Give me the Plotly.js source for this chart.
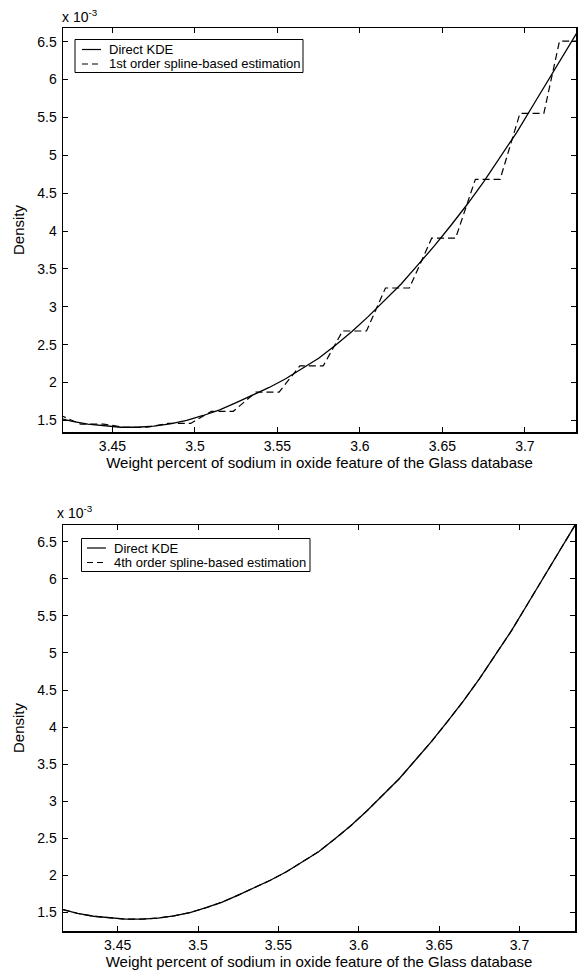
<!DOCTYPE html>
<html><head><meta charset="utf-8">
<script src="https://cdn.plot.ly/plotly-3.0.1.min.js"></script>
<style>html,body{margin:0;padding:0;background:#fff;} #chart{width:580px;height:974px;}</style>
</head><body><div id="chart"></div>
<script>
// Density values in units of 1e-3
const kdeX = [3.416,3.425,3.435,3.445,3.455,3.465,3.475,3.485,3.495,3.505,3.515,3.525,3.535,3.545,3.555,3.565,3.575,3.585,3.595,3.605,3.615,3.625,3.635,3.645,3.655,3.665,3.675,3.685,3.695,3.705,3.715,3.725,3.735];
const kdeY = [1.54,1.49,1.45,1.425,1.41,1.41,1.425,1.455,1.50,1.565,1.64,1.735,1.83,1.935,2.05,2.18,2.32,2.49,2.67,2.87,3.08,3.30,3.55,3.80,4.07,4.35,4.65,4.97,5.30,5.66,6.02,6.38,6.74];

const spline1X = [3.4044,3.4182,3.4308,3.4446,3.4572,3.4710,3.4836,3.4974,3.5100,3.5232,3.5370,3.5510,3.5636,3.5778,3.5895,3.6040,3.6155,3.6300,3.6435,3.6580,3.6700,3.6850,3.6970,3.7115,3.7210,3.7350];
const spline1Y = [1.57,1.57,1.45,1.45,1.41,1.41,1.46,1.46,1.62,1.62,1.874,1.874,2.22,2.22,2.68,2.68,3.248,3.248,3.905,3.905,4.683,4.683,5.553,5.553,6.508,6.508];

const spline4X = [3.416,3.425,3.435,3.445,3.455,3.465,3.475,3.485,3.495,3.505,3.515,3.525,3.535,3.545,3.555,3.565,3.575,3.585,3.595,3.605,3.615,3.625,3.635,3.645,3.655,3.665,3.675,3.685,3.695,3.705,3.715,3.725,3.735];
const spline4Y = [1.54,1.49,1.45,1.425,1.41,1.41,1.425,1.455,1.50,1.565,1.64,1.735,1.83,1.935,2.05,2.18,2.32,2.49,2.67,2.87,3.08,3.30,3.55,3.80,4.07,4.35,4.65,4.97,5.30,5.66,6.02,6.38,6.74];

const xTickVals = [3.45,3.5,3.55,3.6,3.65,3.7];
const xTickText = ['3.45','3.5','3.55','3.6','3.65','3.7'];
const yTickVals = [1.5,2,2.5,3,3.5,4,4.5,5,5.5,6,6.5];
const yTickText = ['1.5','2','2.5','3','3.5','4','4.5','5','5.5','6','6.5'];

const xTitle = 'Weight percent of sodium in oxide feature of the Glass database';
const yTitle = 'Density';
const scaleLabel = 'x 10<sup>-3</sup>';
const names = ['Direct KDE','1st order spline-based estimation','4th order spline-based estimation'];

const W = 580, H = 974;
const FONT = 'Liberation Sans, Arial, Helvetica, sans-serif';
const FS = 14;   // tick labels
const TFS = 15;  // axis titles
const px = v => v / W;
const py = v => (H - v) / H;

function xa(dom, rng, anchor){
  return {domain:dom, range:rng, anchor:anchor, showline:true, linecolor:'#000', linewidth:1.5,
    mirror:'ticks', ticks:'inside', ticklen:5, tickwidth:1, tickcolor:'#000', showgrid:false, zeroline:false,
    tickmode:'array', tickvals:xTickVals, ticktext:xTickText, ticklabelstandoff:1,
    tickfont:{family:FONT, size:FS, color:'#000'},
    title:{text:xTitle, font:{family:FONT, size:TFS, color:'#000'}, standoff:2}};
}
function ya(dom, rng, anchor){
  return {domain:dom, range:rng, anchor:anchor, showline:true, linecolor:'#000', linewidth:1.5,
    mirror:'ticks', ticks:'inside', ticklen:5, tickwidth:1, tickcolor:'#000', showgrid:false, zeroline:false,
    tickmode:'array', tickvals:yTickVals, ticktext:yTickText, ticklabelstandoff:2,
    tickfont:{family:FONT, size:FS, color:'#000'},
    title:{text:yTitle, font:{family:FONT, size:TFS, color:'#000'}, standoff:9}};
}

const traces = [
  {x:kdeX, y:kdeY, xaxis:'x', yaxis:'y', mode:'lines', name:names[0], line:{color:'#000', width:1.3}},
  {x:spline1X, y:spline1Y, xaxis:'x', yaxis:'y', mode:'lines', name:names[1], line:{color:'#000', width:1.2, dash:'7px,4px'}},
  {x:kdeX, y:kdeY, xaxis:'x2', yaxis:'y2', mode:'lines', name:names[0], line:{color:'#000', width:1.3}},
  {x:spline4X, y:spline4Y, xaxis:'x2', yaxis:'y2', mode:'lines', name:names[2], line:{color:'#000', width:1.2, dash:'7px,4px'}}
];

// legend boxes drawn in paper space (box, two samples, two labels)
function legendParts(x0, x1, y0, y1, sx0, sx1, r1, r2, tx, label2){
  const shapes = [
    {type:'rect', xref:'paper', yref:'paper', x0:px(x0), x1:px(x1), y0:py(y1), y1:py(y0),
     line:{color:'#000', width:1}, fillcolor:'#fff', layer:'above'},
    {type:'line', xref:'paper', yref:'paper', x0:px(sx0), x1:px(sx1), y0:py(r1), y1:py(r1),
     line:{color:'#000', width:1.2}, layer:'above'},
    {type:'line', xref:'paper', yref:'paper', x0:px(sx0), x1:px(sx1), y0:py(r2), y1:py(r2),
     line:{color:'#000', width:1.2, dash:'6px,4px'}, layer:'above'}
  ];
  const anns = [
    {text:names[0], xref:'paper', yref:'paper', x:px(tx), y:py(r1), xanchor:'left', yanchor:'middle',
     showarrow:false, borderpad:0, font:{family:FONT, size:13, color:'#000'}},
    {text:label2, xref:'paper', yref:'paper', x:px(tx), y:py(r2), xanchor:'left', yanchor:'middle',
     showarrow:false, borderpad:0, font:{family:FONT, size:13, color:'#000'}}
  ];
  return {shapes, anns};
}
const lg1 = legendParts(75, 303, 39.5, 72.5, 82, 101, 49.5, 64, 108, names[1]);
const lg2 = legendParts(81.5, 310, 538.5, 571.5, 87, 106, 548, 562.5, 113, names[2]);

const layout = {
  width:W, height:H, margin:{l:0, r:0, t:0, b:0}, paper_bgcolor:'#fff', plot_bgcolor:'#fff',
  font:{family:FONT, size:FS, color:'#000'},
  showlegend:false,
  xaxis: xa([px(63), px(576)], [3.42, 3.731], 'y'),
  yaxis: ya([py(432), py(28)], [1.347, 6.68], 'x'),
  xaxis2: xa([px(63), px(575)], [3.416, 3.7345], 'y2'),
  yaxis2: ya([py(931), py(525)], [1.251, 6.725], 'x2'),
  shapes: lg1.shapes.concat(lg2.shapes),
  annotations: [
    {text:scaleLabel, xref:'paper', yref:'paper', x:px(61), y:py(26), xanchor:'left', yanchor:'bottom',
     showarrow:false, borderpad:0, font:{family:FONT, size:FS, color:'#000'}},
    {text:scaleLabel, xref:'paper', yref:'paper', x:px(56), y:py(522), xanchor:'left', yanchor:'bottom',
     showarrow:false, borderpad:0, font:{family:FONT, size:FS, color:'#000'}}
  ].concat(lg1.anns, lg2.anns)
};

Plotly.newPlot('chart', traces, layout, {displayModeBar:false, staticPlot:true});
</script>
</body></html>
